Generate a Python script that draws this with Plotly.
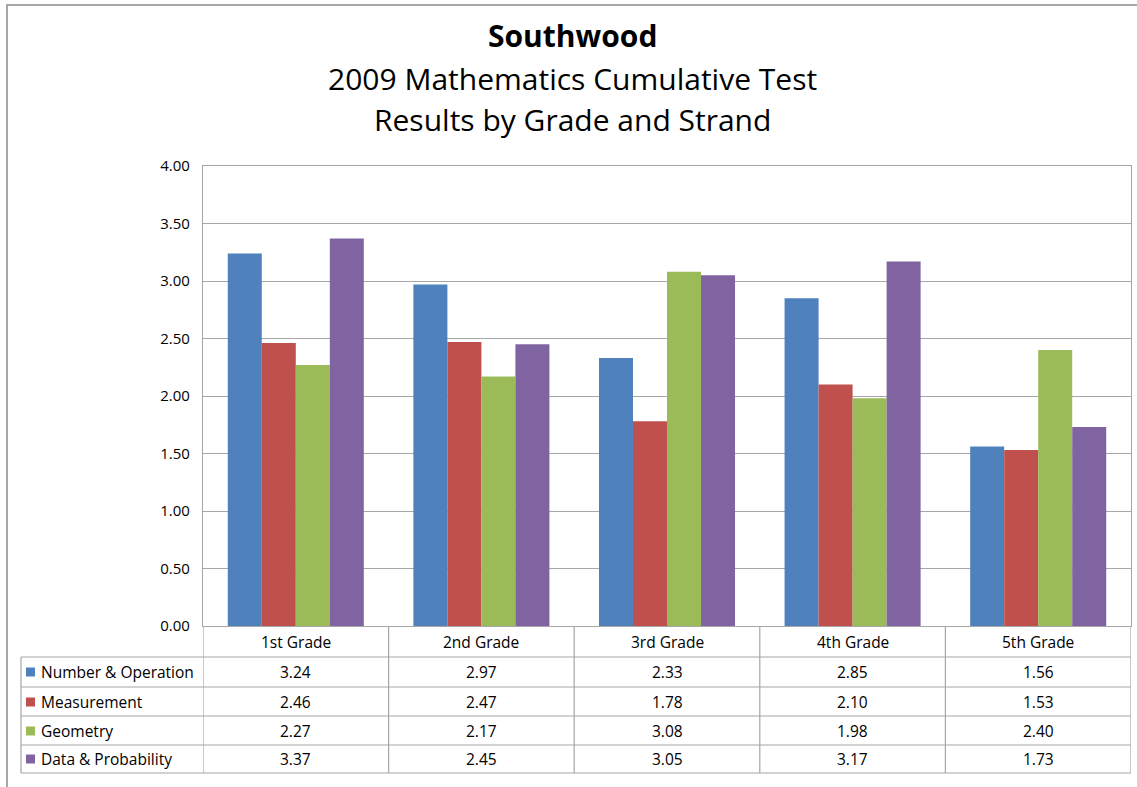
import plotly.graph_objects as go

# ---- data ----
grades = ["1st Grade", "2nd Grade", "3rd Grade", "4th Grade", "5th Grade"]
series_names = ["Number & Operation", "Measurement", "Geometry", "Data & Probability"]
number_operation = [3.24, 2.97, 2.33, 2.85, 1.56]
measurement = [2.46, 2.47, 1.78, 2.10, 1.53]
geometry = [2.27, 2.17, 3.08, 1.98, 2.40]
data_probability = [3.37, 2.45, 3.05, 3.17, 1.73]
y_ticks = [0, 0.5, 1.0, 1.5, 2.0, 2.5, 3.0, 3.5, 4.0]

series_values = [number_operation, measurement, geometry, data_probability]
colors = ["#4F81BD", "#C0504D", "#9BBB59", "#8064A2"]

# ---- layout geometry (pixels) ----
W, H = 1137, 787
L, R, T, B = 203, 1131, 166, 626
FONT = "Open Sans, Lato, sans-serif"
GRID = "#A6A6A6"
TXT = "#000000"


def py(ypx):
    return (B - ypx) / (B - T)


def px(xpx):
    return (xpx - L) / (R - L)


fig = go.Figure()
for name, vals, col in zip(series_names, series_values, colors):
    fig.add_trace(go.Bar(x=grades, y=vals, name=name, marker=dict(color=col, line=dict(width=0))))

shapes = []
annotations = []

# outer chart border
shapes.append(dict(type="rect", xref="paper", yref="paper",
                   x0=px(7), x1=px(1145), y0=py(5), y1=py(795),
                   line=dict(color="#8C8C8C", width=1.5), layer="below"))

# table geometry
row_lines = [657, 687, 716, 745, 773]
table_left = 21
row_centers = [672, 702, 731, 759]

for yl in row_lines:
    shapes.append(dict(type="line", xref="paper", yref="paper",
                       x0=px(table_left), x1=1, y0=py(yl), y1=py(yl),
                       line=dict(color=GRID, width=1.2)))
shapes.append(dict(type="line", xref="paper", yref="paper",
                   x0=px(table_left), x1=px(table_left), y0=py(657), y1=py(773),
                   line=dict(color=GRID, width=1.2)))
for i in range(len(grades) + 1):
    shapes.append(dict(type="line", xref="x", yref="paper",
                       x0=i - 0.5, x1=i - 0.5, y0=0, y1=py(773),
                       line=dict(color=GRID, width=1.2)))

TS = 15.5
for g in grades:
    annotations.append(dict(x=g, xref="x", y=py(642), yref="paper", text=g,
                            showarrow=False, xanchor="center", yanchor="middle",
                            font=dict(family=FONT, size=TS, color=TXT)))
for vals, yc in zip(series_values, row_centers):
    for g, v in zip(grades, vals):
        annotations.append(dict(x=g, xref="x", y=py(yc), yref="paper", text=f"{v:.2f}",
                                showarrow=False, xanchor="center", yanchor="middle",
                                font=dict(family=FONT, size=TS, color=TXT)))
for name, col, yc in zip(series_names, colors, row_centers):
    shapes.append(dict(type="rect", xref="paper", yref="paper",
                       x0=px(26), x1=px(35), y0=py(yc - 4.5), y1=py(yc + 4.5),
                       fillcolor=col, line=dict(width=0)))
    annotations.append(dict(x=px(39), xref="paper", y=py(yc), yref="paper", text=name,
                            showarrow=False, xanchor="left", yanchor="middle",
                            font=dict(family=FONT, size=TS, color=TXT)))

cx = 0.5 * (px(7) + px(1137))
annotations.append(dict(x=cx, xref="paper", y=py(35), yref="paper",
                        text="<b>Southwood</b>", showarrow=False, xanchor="center", yanchor="middle",
                        font=dict(family=FONT, size=30, color=TXT)))
annotations.append(dict(x=cx, xref="paper", y=py(78), yref="paper",
                        text="2009 Mathematics Cumulative Test", showarrow=False,
                        xanchor="center", yanchor="middle",
                        font=dict(family=FONT, size=30, color=TXT)))
annotations.append(dict(x=cx, xref="paper", y=py(120), yref="paper",
                        text="Results by Grade and Strand", showarrow=False,
                        xanchor="center", yanchor="middle",
                        font=dict(family=FONT, size=30, color=TXT)))

fig.update_layout(
    width=W, height=H,
    margin=dict(l=L, r=W - R, t=T, b=H - B, pad=0),
    paper_bgcolor="white", plot_bgcolor="white",
    barmode="group", bargap=0.267, bargroupgap=0,
    showlegend=False,
    shapes=shapes, annotations=annotations,
    font=dict(family=FONT, color=TXT),
)
fig.update_xaxes(showticklabels=False, ticks="", showgrid=False,
                 showline=True, linecolor=GRID, linewidth=1.2, mirror=True,
                 range=[-0.5, len(grades) - 0.5])
fig.update_yaxes(range=[0, 4], tickvals=y_ticks, tickformat=".2f",
                 showgrid=True, gridcolor=GRID, gridwidth=1.2,
                 showline=True, linecolor=GRID, linewidth=1.2, mirror=True,
                 ticks="", ticklabelstandoff=9, zeroline=False,
                 tickfont=dict(family=FONT, size=15, color=TXT))

fig.write_html("out.html", config={"displayModeBar": False},
               post_script="document.body.style.margin='0px';")
